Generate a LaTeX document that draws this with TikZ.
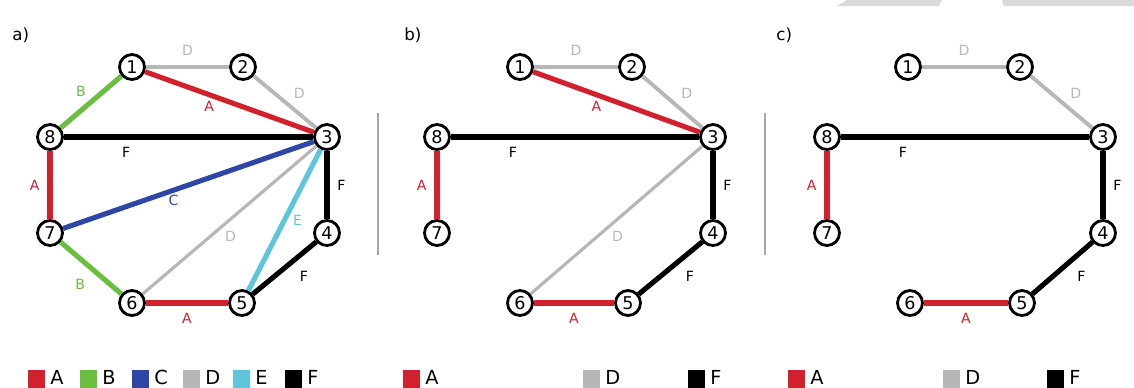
\documentclass[tikz,border=0pt]{standalone}
\usepackage{fontspec}
\setmainfont{DejaVu Sans}
\usetikzlibrary{positioning}

\definecolor{colA}{HTML}{D2202C}
\definecolor{colB}{HTML}{6ABF3E}
\definecolor{colC}{HTML}{2E47A6}
\definecolor{colD}{HTML}{B7B7B7}
\definecolor{colE}{HTML}{5DC6DD}
\definecolor{colF}{HTML}{000000}
\definecolor{bandgray}{HTML}{DADADC}

\begin{document}
\begin{tikzpicture}[
    x=0.02cm, y=-0.02cm,
    vertex/.style={circle, draw, line width=1.6pt, fill=white, minimum size=0.5cm, inner sep=0pt, font=\fontsize{10}{10}\selectfont},
    edge/.style={line width=2.9pt},
    thinedge/.style={line width=2.2pt},
    faintedge/.style={line width=1.8pt},
    lbl/.style={font=\fontsize{8}{8}\selectfont, inner sep=1.5pt},
    key/.style={rectangle, minimum width=0.34cm, minimum height=0.45cm, inner sep=0pt, anchor=north west},
    keytext/.style={font=\fontsize{11}{11}\selectfont, anchor=base west, inner sep=0pt},
    panel/.style={font=\fontsize{9.5}{10}\selectfont, anchor=base west, inner sep=0pt},
    divider/.style={line width=1pt, draw=gray!70}
]
    \useasboundingbox (0,0) rectangle (1134,387);

    % Watermark band
    \fill[bandgray] (837,6) -- (847,0) -- (942,0) -- (939,6) -- cycle;
    \fill[bandgray] (1004,6) -- (1002,0) -- (1134,0) -- (1134,6) -- cycle;

    % Panel labels
    \node (pa) [panel] at (12,40) {a)};
    \node (pb) [panel] at (404,40) {b)};
    \node (pc) [panel] at (776,40) {c)};

    % Dividers
    \coordinate (d1top) at (378,113);
    \coordinate (d1bot) at (378,255);
    \coordinate (d2top) at (765,113);
    \coordinate (d2bot) at (765,255);
    \draw [divider] (d1top) -- (d1bot);
    \draw [divider] (d2top) -- (d2bot);

    % Nodes a)
    \node (a1) [vertex] at (132,67) {1};
    \node (a2) [vertex] at (243,67) {2};
    \node (a3) [vertex] at (327,137) {3};
    \node (a4) [vertex] at (327,233) {4};
    \node (a5) [vertex] at (242,303) {5};
    \node (a6) [vertex] at (132,303) {6};
    \node (a7) [vertex] at (50,233) {7};
    \node (a8) [vertex] at (50,137) {8};

    % Nodes b)
    \node (b1) [vertex] at (520,67) {1};
    \node (b2) [vertex] at (632,67) {2};
    \node (b3) [vertex] at (713,137) {3};
    \node (b4) [vertex] at (713,233) {4};
    \node (b5) [vertex] at (628,303) {5};
    \node (b6) [vertex] at (520,303) {6};
    \node (b7) [vertex] at (437,233) {7};
    \node (b8) [vertex] at (437,137) {8};

    % Nodes c)
    \node (c1) [vertex] at (908,67) {1};
    \node (c2) [vertex] at (1020,67) {2};
    \node (c3) [vertex] at (1103,137) {3};
    \node (c4) [vertex] at (1103,233) {4};
    \node (c5) [vertex] at (1022,303) {5};
    \node (c6) [vertex] at (910,303) {6};
    \node (c7) [vertex] at (827,233) {7};
    \node (c8) [vertex] at (827,137) {8};

    % Edges a)
    \draw [thinedge, colD] (a1) -- (a2) node[lbl, midway, above=4pt] {D};
    \draw [thinedge, colD] (a2) -- (a3) node[lbl, pos=0.55, above right=1pt] {D};
    \draw [edge, colA] (a1) -- (a3) node[lbl, pos=0.38, below=1pt] {A};
    \draw [edge, colB] (a1) -- (a8) node[lbl, pos=0.5, above left] {B};
    \draw [edge, colF] (a8) -- (a3) node[lbl, pos=0.25, below=3pt] {F};
    \draw [edge, colA] (a8) -- (a7) node[lbl, midway, left=3pt] {A};
    \draw [edge, colC] (a7) -- (a3) node[lbl, pos=0.44, below] {C};
    \draw [faintedge, colD] (a6) -- (a3) node[lbl, pos=0.45, below right] {D};
    \draw [edge, colE] (a5) -- (a3) node[lbl, pos=0.5, right=2pt] {E};
    \draw [edge, colF] (a3) -- (a4) node[lbl, midway, right=3pt] {F};
    \draw [edge, colF] (a4) -- (a5) node[lbl, pos=0.4, below right=3pt] {F};
    \draw [edge, colB] (a7) -- (a6) node[lbl, pos=0.55, below left=3pt] {B};
    \draw [edge, colA] (a6) -- (a5) node[lbl, midway, below=3pt] {A};

    % Edges b)
    \draw [thinedge, colD] (b1) -- (b2) node[lbl, midway, above=4pt] {D};
    \draw [thinedge, colD] (b2) -- (b3) node[lbl, pos=0.55, above right=1pt] {D};
    \draw [edge, colA] (b1) -- (b3) node[lbl, pos=0.38, below=1pt] {A};
    \draw [edge, colF] (b8) -- (b3) node[lbl, pos=0.25, below=3pt] {F};
    \draw [edge, colA] (b8) -- (b7) node[lbl, midway, left=3pt] {A};
    \draw [faintedge, colD] (b6) -- (b3) node[lbl, pos=0.45, below right] {D};
    \draw [edge, colF] (b3) -- (b4) node[lbl, midway, right=3pt] {F};
    \draw [edge, colF] (b4) -- (b5) node[lbl, pos=0.4, below right=3pt] {F};
    \draw [edge, colA] (b6) -- (b5) node[lbl, midway, below=3pt] {A};

    % Edges c)
    \draw [thinedge, colD] (c1) -- (c2) node[lbl, midway, above=4pt] {D};
    \draw [thinedge, colD] (c2) -- (c3) node[lbl, pos=0.55, above right=1pt] {D};
    \draw [edge, colF] (c8) -- (c3) node[lbl, pos=0.25, below=3pt] {F};
    \draw [edge, colA] (c8) -- (c7) node[lbl, midway, left=3pt] {A};
    \draw [edge, colF] (c3) -- (c4) node[lbl, midway, right=3pt] {F};
    \draw [edge, colF] (c4) -- (c5) node[lbl, pos=0.4, below right=3pt] {F};
    \draw [edge, colA] (c6) -- (c5) node[lbl, midway, below=3pt] {A};

    % Legend a)
    \node (kaA) [key, fill=colA] at (28,370) {};
    \node (taA) [keytext] at (50,384) {A};
    \node (kaB) [key, fill=colB] at (80,370) {};
    \node (taB) [keytext] at (102,384) {B};
    \node (kaC) [key, fill=colC] at (132,370) {};
    \node (taC) [keytext] at (154,384) {C};
    \node (kaD) [key, fill=colD] at (183,370) {};
    \node (taD) [keytext] at (205,384) {D};
    \node (kaE) [key, fill=colE] at (233,370) {};
    \node (taE) [keytext] at (255,384) {E};
    \node (kaF) [key, fill=colF] at (285,370) {};
    \node (taF) [keytext] at (307,384) {F};

    % Legend b)
    \node (kbA) [key, fill=colA] at (403,370) {};
    \node (tbA) [keytext] at (425,384) {A};
    \node (kbD) [key, fill=colD] at (583,370) {};
    \node (tbD) [keytext] at (605,384) {D};
    \node (kbF) [key, fill=colF] at (688,370) {};
    \node (tbF) [keytext] at (710,384) {F};

    % Legend c)
    \node (kcA) [key, fill=colA] at (788,370) {};
    \node (tcA) [keytext] at (810,384) {A};
    \node (kcD) [key, fill=colD] at (943,370) {};
    \node (tcD) [keytext] at (965,384) {D};
    \node (kcF) [key, fill=colF] at (1047,370) {};
    \node (tcF) [keytext] at (1069,384) {F};

\end{tikzpicture}
\end{document}
